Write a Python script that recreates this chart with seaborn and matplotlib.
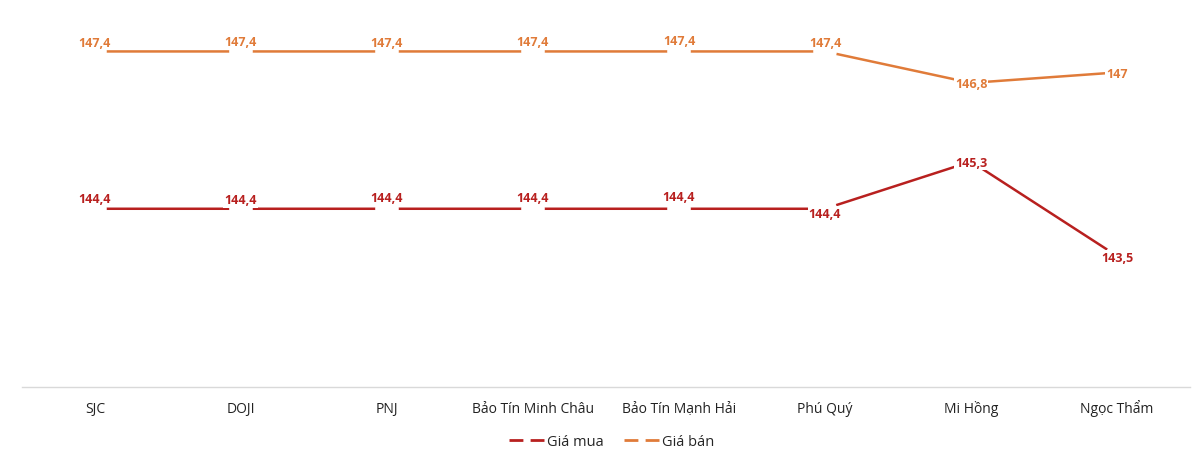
import matplotlib
matplotlib.use("Agg")
import matplotlib.pyplot as plt
import seaborn as sns
import pandas as pd
from matplotlib.lines import Line2D

# data
categories = ["SJC", "DOJI", "PNJ", "Bảo Tín Minh Châu", "Bảo Tín Mạnh Hải",
              "Phú Quý", "Mi Hồng", "Ngọc Thẩm"]
gia_mua = [144.4, 144.4, 144.4, 144.4, 144.4, 144.4, 145.3, 143.5]
gia_ban = [147.4, 147.4, 147.4, 147.4, 147.4, 147.4, 146.8, 147.0]

# label offsets in pixels (above the point)
dy_mua = [10, 9, 11, 11, 12, -5, -1, -2]
dy_ban = [9, 10, 9, 10, 11, 9, -1, -1]

red = "#B8201F"
orange = "#E07B39"

df = pd.DataFrame({"cat": categories, "Giá mua": gia_mua, "Giá bán": gia_ban})
df["x"] = range(len(categories))

sns.set_theme(style="white")
plt.rcParams["font.family"] = ["Open Sans", "DejaVu Sans"]

fig = plt.figure(figsize=(12, 4.56), dpi=100)
ax = fig.add_axes([0.0183, 0.149, 0.9734, 0.805])

sns.lineplot(data=df, x="x", y="Giá mua", color=red, linewidth=1.8, ax=ax, zorder=2)
sns.lineplot(data=df, x="x", y="Giá bán", color=orange, linewidth=1.8, ax=ax, zorder=2)

# white gaps around each point (Excel label boxes hide the line there)
for col in ["Giá mua", "Giá bán"]:
    ax.scatter(df["x"], df[col], s=17 ** 2, marker="o", color="white",
               edgecolors="none", zorder=3)


def fmt(v):
    s = f"{v:.1f}".replace(".", ",")
    if s.endswith(",0"):
        s = s[:-2]
    return s


for col, vals, offs, c in [("Giá mua", gia_mua, dy_mua, red),
                           ("Giá bán", gia_ban, dy_ban, orange)]:
    for i, v in enumerate(vals):
        ax.annotate(fmt(v), (i, v), xytext=(0, offs[i] * 0.72),
                    textcoords="offset points", ha="center", va="center",
                    fontsize=9, fontweight="bold", color=c, zorder=5,
                    bbox=dict(boxstyle="square,pad=0.1", fc="white", ec="none"))

ax.set_xlim(-0.5, len(categories) - 0.5)
ax.set_ylim(141, 148)
ax.set_xticks(df["x"])
ax.set_xticklabels(categories, fontsize=10, color="#222222")
for t in ax.get_xticklabels():
    t.set_va("baseline")
ax.set_yticks([])
ax.set_xlabel("")
ax.set_ylabel("")
ax.tick_params(axis="x", length=0, pad=18)
for s in ["top", "right", "left"]:
    ax.spines[s].set_visible(False)
ax.spines["bottom"].set_color("#D9D9D9")
ax.spines["bottom"].set_linewidth(1)

handles = [Line2D([0], [0], color=red, lw=2, linestyle=(0, (5, 2.6))),
           Line2D([0], [0], color=orange, lw=2, linestyle=(0, (5, 2.6)))]
fig.legend(handles, ["Giá mua", "Giá bán"], loc="center", bbox_to_anchor=(0.51, 0.03),
           ncol=2, frameon=False, fontsize=10.5, handlelength=2.4, handletextpad=0.2,
           columnspacing=1.4)

fig.savefig("out.png", dpi=100, facecolor="white")
